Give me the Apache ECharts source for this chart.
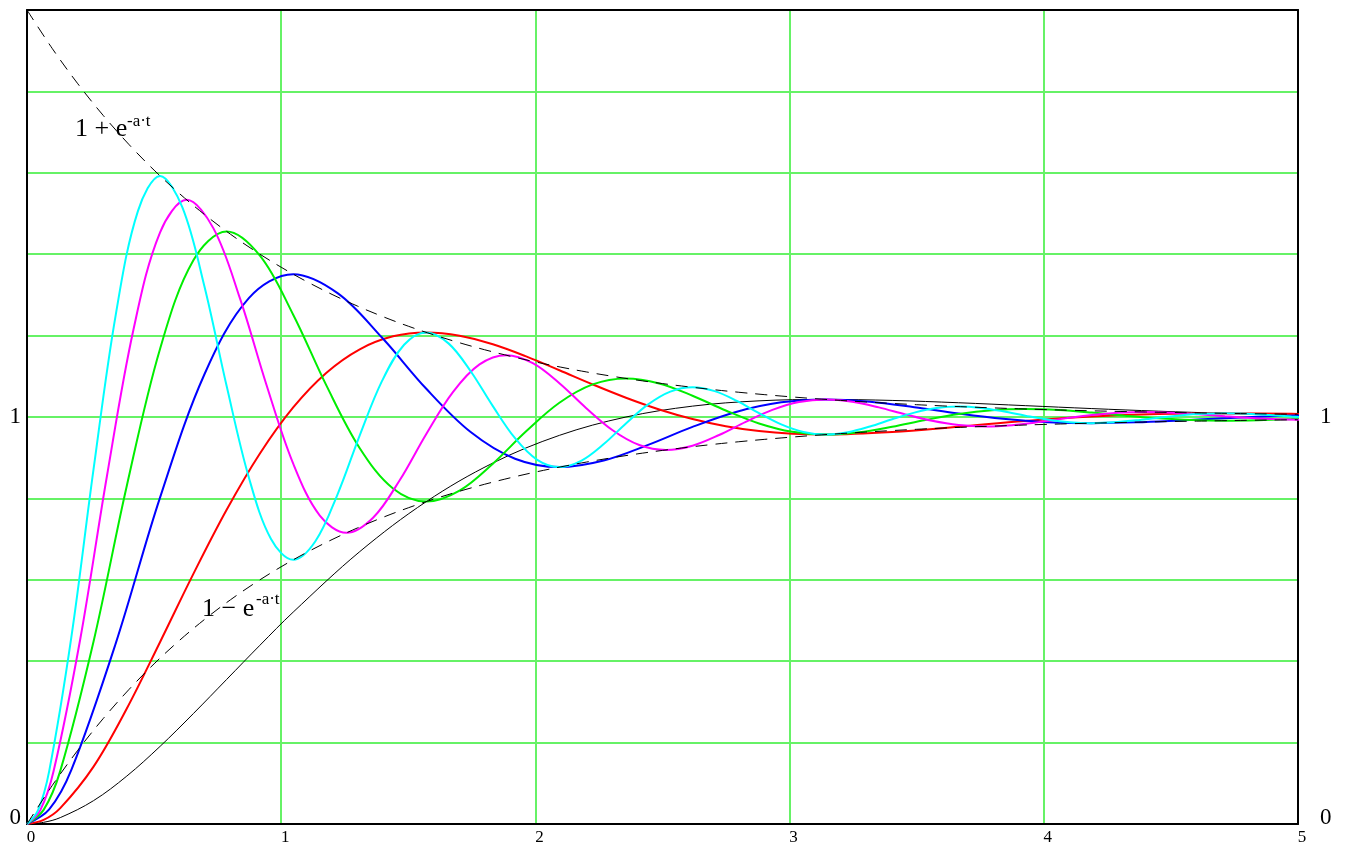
<!DOCTYPE html>
<html>
<head>
<meta charset="utf-8">
<script src="https://cdn.jsdelivr.net/npm/echarts@6/dist/echarts.min.js"></script>
<style>
html,body{margin:0;padding:0;background:#fff;}
#chart{width:1347px;height:846px;}
</style>
</head>
<body>
<div id="chart"></div>
<script>
// ---- data ----
var xTicks = [0, 1, 2, 3, 4, 5];
var yTickLabels = {0: '0', 1: '1'};

// envelopes 1 + e^-at and 1 - e^-at
var tEnv = [0,0.1,0.2,0.3,0.4,0.5,0.6,0.7,0.8,0.9,1.0,1.1,1.2,1.3,1.4,1.5,1.6,1.7,1.8,1.9,2.0,2.1,2.2,2.3,2.4,2.5,2.6,2.7,2.8,2.9,3.0,3.1,3.2,3.3,3.4,3.5,3.6,3.7,3.8,3.9,4.0,4.1,4.2,4.3,4.4,4.5,4.6,4.7,4.8,4.9,5.0];
var envUpper = [2,1.9048,1.8187,1.7408,1.6703,1.6065,1.5488,1.4966,1.4493,1.4066,1.3679,1.3329,1.3012,1.2725,1.2466,1.2231,1.2019,1.1827,1.1653,1.1496,1.1353,1.1225,1.1108,1.1003,1.0907,1.0821,1.0743,1.0672,1.0608,1.0550,1.0498,1.0450,1.0408,1.0369,1.0334,1.0302,1.0273,1.0247,1.0224,1.0202,1.0183,1.0166,1.0150,1.0136,1.0123,1.0111,1.0101,1.0091,1.0082,1.0074,1.0067];
var envLower = [0,0.0952,0.1813,0.2592,0.3297,0.3935,0.4512,0.5034,0.5507,0.5934,0.6321,0.6671,0.6988,0.7275,0.7534,0.7769,0.7981,0.8173,0.8347,0.8504,0.8647,0.8775,0.8892,0.8997,0.9093,0.9179,0.9257,0.9328,0.9392,0.9450,0.9502,0.9550,0.9592,0.9631,0.9666,0.9698,0.9727,0.9753,0.9776,0.9798,0.9817,0.9834,0.9850,0.9864,0.9877,0.9889,0.9899,0.9909,0.9918,0.9926,0.9933];

// black curve
var tBlack = [0,0.0654,0.1309,0.2618,0.3927,0.5236,0.6545,0.7854,0.9163,1.0472,1.3090,1.5708,1.8326,2.0944,2.3562,2.6180,2.8798,3.1416,3.4034,3.6652,3.9270,4.1888,4.4506,4.7124,4.9742,5.2360];
var yBlack = [0,0.0041,0.0157,0.0574,0.1178,0.1908,0.2713,0.3552,0.4392,0.5206,0.6692,0.7921,0.8869,0.9549,1.0000,1.0267,1.0397,1.0432,1.0407,1.0350,1.0279,1.0207,1.0143,1.0090,1.0049,1.0019];

// red curve
var tRed = [0,0.0654,0.1309,0.2618,0.3927,0.5236,0.6545,0.7854,0.9163,1.0472,1.1781,1.3090,1.4399,1.5708,1.7017,1.8326,1.9635,2.0944,2.2253,2.3562,2.4871,2.6180,2.7489,2.8798,3.0107,3.1416,3.4034,3.6652,3.9270,4.1888,4.4506,4.7124,4.9742,5.2360];
var yRed = [0,0.0102,0.0391,0.1410,0.2838,0.4473,0.6145,0.7720,0.9103,1.0235,1.1088,1.1664,1.1982,1.2079,1.1998,1.1786,1.1489,1.1149,1.0801,1.0474,1.0186,0.9951,0.9774,0.9654,0.9588,0.9568,0.9629,0.9761,0.9901,1.0010,1.0072,1.0090,1.0077,1.0050];

// blue curve
var tBlue = [0,0.0873,0.1745,0.3491,0.5236,0.6981,0.8727,1.0472,1.2217,1.3963,1.5708,1.7453,1.9199,2.0944,2.2689,2.4435,2.6180,2.7925,2.9671,3.1416,3.3161,3.4907,3.6652,3.8397,4.0143,4.1888,4.3633,4.5379,4.7124,4.8869,5.0615];
var yBlue = [0,0.0357,0.1327,0.4437,0.8025,1.1051,1.2922,1.3509,1.3044,1.1952,1.0693,0.9631,0.8975,0.8769,0.8932,0.9315,0.9757,1.0129,1.0360,1.0432,1.0375,1.0240,1.0085,0.9955,0.9874,0.9848,0.9868,0.9916,0.9970,1.0016,1.0044];

// green curve
var tGreen = [0,0.0654,0.1309,0.2618,0.3927,0.5236,0.6545,0.7854,0.9163,1.0472,1.1781,1.3090,1.4399,1.5708,1.7017,1.8326,1.9635,2.0944,2.2253,2.3562,2.4871,2.6180,2.7489,2.8798,3.0107,3.1416,3.2725,3.4034,3.5343,3.6652,3.7961,3.9270,4.0579,4.1888,4.3197,4.4506,4.5815,4.7124,4.8433,4.9742,5.1051];
var yGreen = [0,0.0347,0.1306,0.4485,0.8312,1.1679,1.3851,1.4559,1.3964,1.2514,1.0770,0.9234,0.8244,0.7921,0.8193,0.8854,0.9649,1.0349,1.0801,1.0948,1.0824,1.0523,1.0160,0.9841,0.9635,0.9568,0.9624,0.9762,0.9927,1.0073,1.0166,1.0197,1.0171,1.0109,1.0033,0.9967,0.9924,0.9910,0.9922,0.9950,0.9985];

// magenta curve
var tMagenta = [0,0.0524,0.1047,0.2094,0.3142,0.4189,0.5236,0.6283,0.7330,0.8378,0.9425,1.0472,1.1519,1.2566,1.3614,1.4661,1.5708,1.6755,1.7802,1.8850,1.9897,2.0944,2.1991,2.3038,2.4086,2.5133,2.6180,2.7227,2.8274,2.9322,3.0369,3.1416,3.2463,3.3510,3.4558,3.5605,3.6652,3.7699,3.8746,3.9794,4.0841,4.1888,4.2935,4.3982,4.5029,4.6077,4.7124,4.8171,4.9218,5.0265];
var yMagenta = [0,0.0342,0.1300,0.4540,0.8539,1.2150,1.4538,1.5335,1.4641,1.2913,1.0779,0.8853,0.7579,0.7154,0.7524,0.8446,0.9584,1.0612,1.1292,1.1518,1.1321,1.0829,1.0222,0.9674,0.9311,0.9190,0.9295,0.9558,0.9882,1.0174,1.0368,1.0432,1.0376,1.0236,1.0063,0.9907,0.9804,0.9769,0.9799,0.9874,0.9966,1.0050,1.0105,1.0123,1.0107,1.0067,1.0018,0.9974,0.9944,0.9934];

// cyan curve
var tCyan = [0,0.0436,0.0873,0.1745,0.2618,0.3491,0.4363,0.5236,0.6109,0.6981,0.7854,0.8727,0.9599,1.0472,1.1345,1.2217,1.3090,1.3963,1.4835,1.5708,1.6581,1.7453,1.8326,1.9199,2.0071,2.0944,2.1817,2.2689,2.3562,2.4435,2.5307,2.6180,2.7053,2.7925,2.8798,2.9671,3.0543,3.1416,3.2289,3.3161,3.4034,3.4907,3.5779,3.6652,3.7525,3.8397,3.9270,4.0143,4.1015,4.1888,4.2761,4.3633,4.4506,4.5379,4.6251,4.7124,4.7997,4.8869,4.9742,5.0615];
var yCyan = [0,0.0340,0.1300,0.4589,0.8717,1.2509,1.5059,1.5924,1.5154,1.3206,1.0760,0.8514,0.7003,0.6491,0.6947,0.8101,0.9550,1.0880,1.1775,1.2079,1.1809,1.1125,1.0267,0.9479,0.8948,0.8769,0.8929,0.9334,0.9842,1.0309,1.0623,1.0729,1.0635,1.0395,1.0094,0.9817,0.9631,0.9568,0.9624,0.9766,0.9945,1.0108,1.0219,1.0256,1.0223,1.0139,1.0033,0.9936,0.9870,0.9848,0.9868,0.9918,0.9981,1.0038,1.0077,1.0090,1.0078,1.0049,1.0012,0.9977];

// ---- chart ----
function pairs(t, y) { return t.map(function (v, i) { return [v, y[i]]; }); }
var SERIF = "Liberation Serif";
var GRIDGREEN = '#66f266';

function curve(name, t, y, color, width, dashed) {
  return {
    name: name, type: 'line', data: pairs(t, y), showSymbol: false, symbol: 'none',
    smooth: 0.35, clip: true, silent: true,
    lineStyle: { color: color, width: width, type: dashed ? [12, 8] : 'solid' }
  };
}

function yLabel(v) {
  if (Math.abs(v) < 1e-9) return '{z|' + yTickLabels[0] + '}';
  if (Math.abs(v - 1) < 1e-9) return yTickLabels[1];
  return '';
}

var chart = echarts.init(document.getElementById('chart'), null, { renderer: 'canvas' });
chart.setOption({
  animation: false,
  backgroundColor: '#ffffff',
  grid: { left: 27, right: 49, top: 10, bottom: 21, containLabel: false },
  xAxis: [{
    type: 'value', min: xTicks[0], max: xTicks[xTicks.length - 1], interval: 1, position: 'bottom',
    axisLine: { show: true, onZero: false, lineStyle: { color: '#000', width: 2 } },
    axisTick: { show: false },
    axisLabel: { color: '#000', fontFamily: SERIF, fontSize: 17, margin: 5, padding: [0, 0, 0, 8] },
    splitLine: { show: true, lineStyle: { color: GRIDGREEN, width: 2 } }
  }, {
    type: 'value', min: 0, max: 5, interval: 1, position: 'top',
    axisLine: { show: true, onZero: false, lineStyle: { color: '#000', width: 2 } },
    axisTick: { show: false }, axisLabel: { show: false }, splitLine: { show: false }
  }],
  yAxis: [{
    type: 'value', min: 0, max: 2, interval: 0.2, position: 'left',
    axisLine: { show: true, onZero: false, lineStyle: { color: '#000', width: 2 } },
    axisTick: { show: false },
    axisLabel: { color: '#000', fontFamily: SERIF, fontSize: 23, margin: 6, formatter: yLabel,
      rich: { z: { fontFamily: SERIF, fontSize: 23, color: '#000', padding: [0, 0, 12, 0] } } },
    splitLine: { show: true, lineStyle: { color: GRIDGREEN, width: 2 } }
  }, {
    type: 'value', min: 0, max: 2, interval: 0.2, position: 'right',
    axisLine: { show: true, onZero: false, lineStyle: { color: '#000', width: 2 } },
    axisTick: { show: false },
    axisLabel: { color: '#000', fontFamily: SERIF, fontSize: 23, margin: 22, formatter: yLabel,
      rich: { z: { fontFamily: SERIF, fontSize: 23, color: '#000', padding: [0, 0, 12, 0] } } },
    splitLine: { show: false }
  }],
  series: [
    curve('black', tBlack, yBlack, '#000000', 1, false),
    curve('red', tRed, yRed, '#ff0000', 2, false),
    curve('blue', tBlue, yBlue, '#0000ff', 2, false),
    curve('green', tGreen, yGreen, '#00ee00', 2, false),
    curve('magenta', tMagenta, yMagenta, '#ff00ff', 2, false),
    curve('cyan', tCyan, yCyan, '#00ffff', 2, false),
    curve('upper', tEnv, envUpper, '#000000', 1, true),
    curve('lower', tEnv, envLower, '#000000', 1, true)
  ],
  graphic: [
    { type: 'text', left: 75, top: 116, z: 100, style: { text: '1 + e', fontSize: 26, fontFamily: SERIF, fill: '#000' } },
    { type: 'text', left: 127, top: 113, z: 100, style: { text: '-a\u00b7t', fontSize: 17, fontFamily: SERIF, fill: '#000' } },
    { type: 'text', left: 202, top: 596, z: 100, style: { text: '1 \u2212 e', fontSize: 26, fontFamily: SERIF, fill: '#000' } },
    { type: 'text', left: 256, top: 591, z: 100, style: { text: '-a\u00b7t', fontSize: 17, fontFamily: SERIF, fill: '#000' } }
  ]
});
</script>
</body>
</html>
